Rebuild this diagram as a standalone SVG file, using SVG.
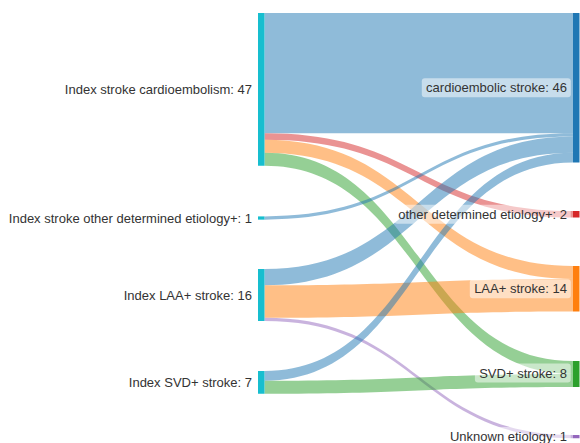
<svg xmlns="http://www.w3.org/2000/svg" width="580" height="443" viewBox="0 0 580 443">
<style>
.lk{stroke:none;fill-opacity:0.5}
.b{fill:#1f77b4}.r{fill:#d62728}.o{fill:#ff7f0e}.g{fill:#2ca02c}.p{fill:#9467bd}
.src{fill:#17becf}
.t{font-family:"Liberation Sans",Arial,sans-serif;font-size:13px;fill:#333}
.lbl{text-anchor:end}
.bg{fill:#fff;fill-opacity:0.5}
</style>
<rect width="580" height="443" fill="#fff"/>
<g id="links">
<path class="lk b" d="M264.5,13 C418.75,13 418.75,13 573,13 L573,133.25 C418.75,133.25 418.75,133.25 264.5,133.25 Z"/>
<path class="lk r" d="M264.5,133.25 C418.75,133.25 418.75,211 573,211 L573,217.5 C418.75,217.5 418.75,139.75 264.5,139.75 Z"/>
<path class="lk o" d="M264.5,139.75 C418.75,139.75 418.75,266 573,266 L573,279 C418.75,279 418.75,152.75 264.5,152.75 Z"/>
<path class="lk g" d="M264.5,152.75 C418.75,152.75 418.75,361 573,361 L573,374 C418.75,374 418.75,165.75 264.5,165.75 Z"/>
<path class="lk b" d="M264.5,216.4 C418.75,216.4 418.75,133.25 573,133.25 L573,136.5 C418.75,136.5 418.75,219.65 264.5,219.65 Z"/>
<path class="lk b" d="M264.5,269 C418.75,269 418.75,136.5 573,136.5 L573,152.75 C418.75,152.75 418.75,285.25 264.5,285.25 Z"/>
<path class="lk o" d="M264.5,285.25 C418.75,285.25 418.75,279 573,279 L573,311.5 C418.75,311.5 418.75,317.75 264.5,317.75 Z"/>
<path class="lk p" d="M264.5,317.75 C418.75,317.75 418.75,435 573,435 L573,438.25 C418.75,438.25 418.75,321 264.5,321 Z"/>
<path class="lk b" d="M264.5,371 C418.75,371 418.75,152.75 573,152.75 L573,162.5 C418.75,162.5 418.75,380.75 264.5,380.75 Z"/>
<path class="lk g" d="M264.5,380.75 C418.75,380.75 418.75,374 573,374 L573,387 C418.75,387 418.75,393.75 264.5,393.75 Z"/>
</g>
<g id="src-cardio"><rect class="src" x="258" y="13" width="6.5" height="152.75"/><text class="t lbl" x="252" y="94">Index stroke cardioembolism: 47</text></g>
<g id="src-other"><rect class="src" x="258" y="216.4" width="6.5" height="3.25"/><text class="t lbl" x="252" y="222.5">Index stroke other determined etiology+: 1</text></g>
<g id="src-laa"><rect class="src" x="258" y="269" width="6.5" height="52"/><text class="t lbl" x="252" y="299.5">Index LAA+ stroke: 16</text></g>
<g id="src-svd"><rect class="src" x="258" y="371" width="6.5" height="22.75"/><text class="t lbl" x="252" y="387">Index SVD+ stroke: 7</text></g>
<g id="tgt-cardio"><rect class="b" x="573" y="13" width="6.5" height="149.5"/><rect class="bg" x="421.8" y="78.3" width="149" height="19" rx="3"/><text class="t lbl" x="567" y="92.3">cardioembolic stroke: 46</text></g>
<g id="tgt-other"><rect class="r" x="573" y="211" width="6.5" height="6.5"/><rect class="bg" x="394.3" y="204.8" width="176.4" height="19" rx="3"/><text class="t lbl" x="567" y="218.8">other determined etiology+: 2</text></g>
<g id="tgt-laa"><rect class="o" x="573" y="266" width="6.5" height="45.5"/><rect class="bg" x="469.8" y="279.3" width="101" height="19" rx="3"/><text class="t lbl" x="567" y="293.3">LAA+ stroke: 14</text></g>
<g id="tgt-svd"><rect class="g" x="573" y="361" width="6.5" height="26"/><rect class="bg" x="474.9" y="363.5" width="95.8" height="19" rx="3"/><text class="t lbl" x="567" y="377.5">SVD+ stroke: 8</text></g>
<g id="tgt-unknown"><rect class="p" x="573" y="435" width="6.5" height="3.25"/><rect class="bg" x="445.7" y="427.1" width="125" height="19" rx="3"/><text class="t lbl" x="567" y="441.1">Unknown etiology: 1</text></g>
</svg>
